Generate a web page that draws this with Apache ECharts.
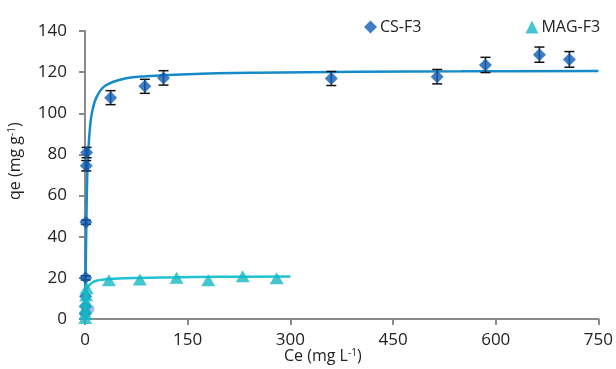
<!DOCTYPE html>
<html><head><meta charset="utf-8">
<script src="https://cdn.jsdelivr.net/npm/echarts@6/dist/echarts.min.js"></script>
<style>html,body{margin:0;padding:0;background:#fff}#c{width:616px;height:369px}</style>
</head><body><div id="c"></div>
<script>
// Observed data
var csX   = [0.3, 0.5, 0.8, 1.0, 1.3, 1.8, 2.4, 37.4, 87.4, 114.7, 359.8, 514.5, 585.0, 663.8, 707.6];
var csY   = [2.6, 6.2, 11.0, 20.0, 47.0, 74.5, 80.9, 107.6, 113.1, 117.2, 116.9, 117.8, 123.5, 128.5, 126.2];
var csErr = [0, 0, 0, 1.0, 1.0, 2.5, 2.5, 3.4, 3.4, 3.5, 3.4, 3.5, 3.7, 3.7, 3.8];

var magX = [0.3, 0.6, 1.0, 1.4, 1.8, 2.5, 34.9, 80.1, 133.7, 180.0, 230.4, 280.0];
var magY = [0.5, 2.5, 5.5, 8.5, 11.5, 15.0, 18.8, 19.2, 20.0, 18.8, 20.8, 19.8];

var otherX = [8];
var otherY = [4.9];

// Fitted curves
var csFitX = [0, 0.5, 1, 2, 3, 4.5, 7, 10, 17, 30, 60, 90, 150, 250, 400, 550, 750];
var csFitY = [0, 12, 24, 47, 66, 80, 92, 100, 108, 113.5, 117, 118, 119, 119.7, 120.2, 120.4, 120.6];

var magFitX = [0, 0.5, 1, 2, 4, 8, 15, 30, 60, 120, 200, 300];
var magFitY = [0, 5, 9, 13, 15.5, 17, 18.5, 19.3, 19.8, 20.2, 20.5, 20.6];

var xTicks = {min: 0, max: 750, interval: 150};
var yTicks = {min: 0, max: 140, interval: 20};

function zip(a, b) { return a.map(function (v, i) { return [v, b[i]]; }); }

var errData = csX.map(function (x, i) { return [x, csY[i] - csErr[i], csY[i] + csErr[i]]; })
  .filter(function (d) { return d[2] - d[1] > 0.1; });

var FONT = '"Open Sans", "Noto Sans", sans-serif';

var chart = echarts.init(document.getElementById('c'), null, {renderer: 'canvas'});
chart.setOption({
  animation: false,
  backgroundColor: '#fff',
  grid: {left: 85, right: 17, top: 31, bottom: 50, containLabel: false},
  legend: {
    left: 359, top: 14, itemGap: 104, itemWidth: 13, itemHeight: 13,
    textStyle: {fontFamily: FONT, fontSize: 16, color: '#222', padding: [0, 0, 0, -2]},
    data: [{name: 'CS-F3', icon: 'diamond'}, {name: 'MAG-F3', icon: 'triangle'}]
  },
  xAxis: {
    type: 'value', min: xTicks.min, max: xTicks.max, interval: xTicks.interval,
    splitLine: {show: false},
    axisLine: {show: true, onZero: false, lineStyle: {color: '#8a8a8a', width: 2}},
    axisTick: {show: true, inside: false, length: 6, lineStyle: {color: '#8a8a8a', width: 2}},
    axisLabel: {fontFamily: FONT, fontSize: 17, color: '#222', margin: 13}
  },
  yAxis: {
    type: 'value', min: yTicks.min, max: yTicks.max, interval: yTicks.interval,
    splitLine: {show: false},
    axisLine: {show: true, onZero: false, lineStyle: {color: '#8a8a8a', width: 2}},
    axisTick: {show: true, inside: false, length: 6, lineStyle: {color: '#8a8a8a', width: 2}},
    axisLabel: {fontFamily: FONT, fontSize: 17, color: '#222', margin: 18}
  },
  graphic: [
    {type: 'text', left: 284, top: 348, z: 10,
     style: {text: '{a|Ce (mg L}{s|-1}{a|)}', fill: '#222',
       rich: {a: {fontFamily: FONT, fontSize: 16, fill: '#222'},
              s: {fontFamily: FONT, fontSize: 10, fill: '#222', verticalAlign: 'top', padding: [0, 0, 7, 0]}}}},
    {type: 'text', x: 7, y: 200, rotation: Math.PI / 2, z: 10,
     style: {text: '{a|qe (mg g}{s|-1}{a|)}', fill: '#222',
       rich: {a: {fontFamily: FONT, fontSize: 16, fill: '#222'},
              s: {fontFamily: FONT, fontSize: 10, fill: '#222', verticalAlign: 'top', padding: [0, 0, 7, 0]}}}}
  ],
  series: [
    {name: 'CS-F3 fit', type: 'line', data: zip(csFitX, csFitY), smooth: 0.4, showSymbol: false,
     lineStyle: {color: '#168bc9', width: 2.5}, z: 2, silent: true},
    {name: 'CS-F3 err', type: 'custom', data: errData, z: 3,
     renderItem: function (params, api) {
       var top = api.coord([api.value(0), api.value(2)]);
       var bot = api.coord([api.value(0), api.value(1)]);
       var w = 5;
       var st = {stroke: '#111', lineWidth: 1.5};
       return {type: 'group', children: [
         {type: 'line', shape: {x1: top[0], y1: top[1], x2: bot[0], y2: bot[1]}, style: st},
         {type: 'line', shape: {x1: top[0] - w, y1: top[1], x2: top[0] + w, y2: top[1]}, style: st},
         {type: 'line', shape: {x1: bot[0] - w, y1: bot[1], x2: bot[0] + w, y2: bot[1]}, style: st}
       ]};
     }},
    {name: 'CS-F3', type: 'scatter', data: zip(csX, csY), symbol: 'diamond', symbolSize: 13,
     itemStyle: {color: '#0f5db5'}, z: 4},
    {name: 'other', type: 'scatter', data: zip(otherX, otherY), symbol: 'circle', symbolSize: 8,
     itemStyle: {color: '#a3a9e3'}, z: 3},
    {name: 'MAG-F3 fit', type: 'line', data: zip(magFitX, magFitY), smooth: 0.4, showSymbol: false,
     lineStyle: {color: '#1fc3d2', width: 2.5}, z: 5, silent: true},
    {name: 'MAG-F3', type: 'scatter', data: zip(magX, magY), symbol: 'triangle', symbolSize: [14, 12],
     itemStyle: {color: '#14b8c3'}, z: 6}
  ]
});
</script></body></html>
